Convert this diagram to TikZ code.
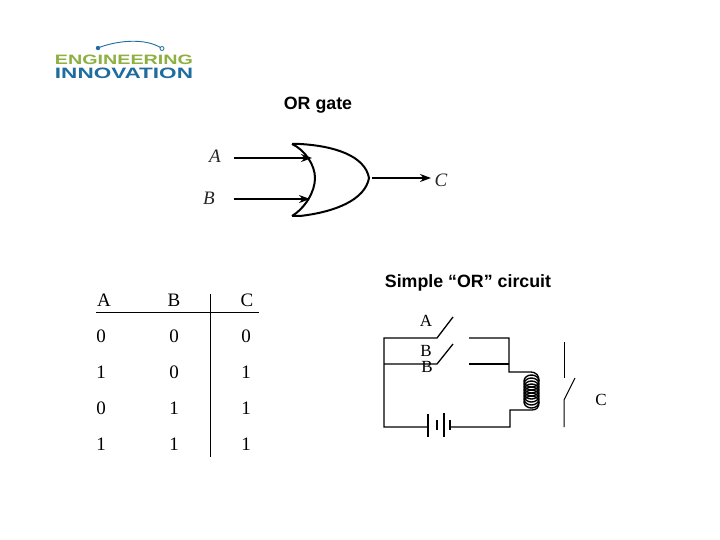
\documentclass[tikz,border=0pt]{standalone}
\usepackage{fontspec}
\setmainfont{Liberation Serif}
\newfontfamily\arialf{Liberation Sans}
\usetikzlibrary{arrows.meta}
\definecolor{logogreen}{HTML}{8DB040}
\definecolor{logoblue}{HTML}{1F6C9E}
\tikzset{
  x=1pt,y=-1pt,
  title/.style={font=\arialf\bfseries\fontsize{17.8}{20}\selectfont,inner sep=0pt},
  cell/.style={font=\fontsize{19}{21}\selectfont,inner sep=0pt},
  lbl/.style={font=\fontsize{17}{19}\selectfont,inner sep=0pt},
  ilbl/.style={font=\itshape\fontsize{19}{21}\selectfont,inner sep=0pt,text=black!85},
  wire/.style={line width=1.3pt,black},
  thin wire/.style={line width=1pt,black},
  sig/.style={line width=1.8pt,-{Stealth[length=11pt,width=8pt]}},
  gatel/.style={line width=2pt},
}
\begin{document}
\begin{tikzpicture}
\useasboundingbox (0,0) rectangle (720,540);
\fill[white] (0,0) rectangle (720,540);
% logo
\node[inner sep=0pt,text=logogreen] (logoa) at (124,59.5) {\resizebox{138pt}{9.5pt}{\arialf\bfseries ENGINEERING}};
\node[inner sep=0pt,text=logoblue] (logob) at (124,73) {\resizebox{138pt}{10.5pt}{\arialf\bfseries INNOVATION}};
\coordinate (la) at (98,48);
\coordinate (lb) at (162,48.5);
\draw[logoblue,line width=0.9pt] (la) .. controls (115,41) and (145,37) .. (lb);
\fill[logoblue] (la) circle (2.2);
\draw[logoblue,line width=0.8pt,fill=white] (lb) circle (2);
% titles
\node[title] (t1) at (318,105.5) {OR gate};
\node[title] (t2) at (468,282.5) {Simple “OR” circuit};
% gate
\node[ilbl] (A) at (215,156) {A};
\node[ilbl] (B) at (209,198) {B};
\node[ilbl] (C) at (441,180) {C};
\coordinate (ga) at (312,158);
\coordinate (gb) at (310,199);
\coordinate (gt) at (292,144);
\coordinate (gd) at (292,216);
\coordinate (gm) at (315,178);
\coordinate (go) at (369,178);
\draw[gatel] (gt) .. controls (305,150) and (315,165) .. (gm) .. controls (315,192) and (305,208) .. (gd);
\draw[gatel] (gt) -- (300,144) .. controls (335,146) and (365,156) .. (go) .. controls (365,200) and (335,212) .. (300,216) -- (gd);
\coordinate (As) at (234,158);
\coordinate (Bs) at (234,199);
\coordinate (Cs) at (372,178);
\coordinate (Ce) at (431,178);
\draw[sig] (As) -- (ga);
\draw[sig] (Bs) -- (gb);
\draw[sig] (Cs) -- (Ce);
% truth table
\foreach \n/\x/\y/\t in {a0/104/300/A,b0/174/300/B,c0/247/300/C,
  a1/101/336/0,b1/174/336/0,c1/246/336/0,
  a2/101/372/1,b2/174/372/0,c2/246/372/1,
  a3/101/408/0,b3/174/408/1,c3/246/408/1,
  a4/101/444/1,b4/174/444/1,c4/246/444/1}
  \node[cell] (\n) at (\x,\y) {\t};
\coordinate (h1) at (96,312);
\coordinate (h2) at (259,312);
\coordinate (v1) at (210,294);
\coordinate (v2) at (210,457);
\draw[thin wire] (h1) -- (h2);
\draw[thin wire] (v1) -- (v2);
% circuit
\node[lbl] (ca) at (426,321) {A};
\node[lbl] (cb1) at (426,351) {B};
\node[lbl] (cb2) at (427,367) {B};
\node[lbl] (cc) at (601,400) {C};
\coordinate (tl) at (384,338);
\coordinate (sl) at (384,364);
\coordinate (bl) at (384,427);
\coordinate (s1) at (437,338);
\coordinate (s1e) at (453,317);
\coordinate (s2) at (437,364);
\coordinate (s2e) at (453,344);
\coordinate (r1) at (469,338);
\coordinate (r2) at (469,364);
\coordinate (rt) at (509,338);
\coordinate (rm) at (509,372);
\coordinate (rb) at (510,410);
\coordinate (rd) at (510,427);
\coordinate (p1) at (428,427);
\coordinate (p4) at (450,427);
\draw[wire] (s1e) -- (s1) -- (tl) -- (bl) -- (p1);
\draw[wire] (s2e) -- (s2) -- (sl);
\draw[wire] (r1) -- (rt) -- (rm) -- (530,372) .. controls (537,372) and (539,376) .. (539,381);
\draw[wire] (r2) -- (509,364);
\draw[wire] (539,402) .. controls (539,407) and (537,410) .. (532,410) -- (rb) -- (rd) -- (p4);
\foreach \y in {381,384,387,390,393,396,399,402}
  \draw[line width=1.4pt] (531.5,\y) ellipse (7.5 and 6);
\draw[line width=1.3pt] (p1|-0,414) -- (p1|-0,437);
\draw[line width=1.3pt] (437,420) -- (437,430);
\draw[line width=1.3pt] (444,413) -- (444,437);
\draw[line width=1.3pt] (p4|-0,420) -- (p4|-0,430);
% relay contact
\coordinate (k1) at (564,342);
\coordinate (k2) at (564,378);
\coordinate (k3) at (564,400);
\coordinate (k4) at (564,427);
\coordinate (k5) at (575,378);
\draw[line width=1pt] (k1) -- (k2);
\draw[line width=1pt] (k5) -- (k3) -- (k4);
\end{tikzpicture}
\end{document}
